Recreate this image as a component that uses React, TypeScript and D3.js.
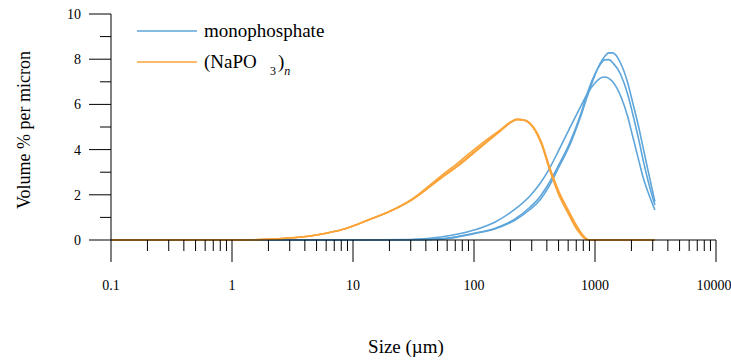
import React, { useEffect } from "react";
import * as d3 from "d3";

// particle size grid (µm) for the two sample groups
const blueSizes = [0.1, 2, 10, 30, 53, 100, 150, 214, 290, 355, 404, 500, 630, 760, 870, 1000, 1100, 1200, 1300, 1400, 1636, 1865, 2045, 2330, 2460, 2750, 3126];
const monoA = [0, 0, 0, 0.02, 0.13, 0.44, 0.8, 1.33, 1.95, 2.53, 3.0, 3.95, 5.04, 5.9, 6.5, 6.95, 7.15, 7.21, 7.15, 7.0, 6.35, 5.45, 4.6, 3.4, 2.9, 2.1, 1.33];
const monoB = [0, 0, 0, 0.01, 0.05, 0.3, 0.52, 0.9, 1.45, 1.95, 2.4, 3.3, 4.4, 5.55, 6.55, 7.35, 7.75, 7.97, 7.98, 7.85, 7.3, 6.44, 5.6, 4.3, 3.7, 2.6, 1.55];
const monoC = [0, 0, 0, 0.01, 0.04, 0.28, 0.5, 0.85, 1.35, 1.8, 2.25, 3.2, 4.3, 5.45, 6.4, 7.3, 7.8, 8.12, 8.28, 8.28, 7.8, 6.95, 6.1, 4.85, 4.25, 3.05, 1.7];

const orangeSizes = [0.1, 1, 2, 3, 4.4, 6, 7.9, 10, 13.4, 20, 30, 53, 75, 100, 130, 166, 200, 228, 260, 310, 360, 425, 500, 590, 680, 760, 850, 900, 1500, 3126];
const polyA = [0, 0, 0.03, 0.09, 0.18, 0.3, 0.44, 0.62, 0.89, 1.26, 1.75, 2.75, 3.35, 3.9, 4.4, 4.85, 5.2, 5.33, 5.3, 4.97, 4.3, 3.1, 2.1, 1.33, 0.7, 0.3, 0.03, 0, 0, 0];
const polyB = [0, 0, 0.03, 0.09, 0.18, 0.3, 0.44, 0.62, 0.89, 1.26, 1.77, 2.82, 3.45, 4.0, 4.47, 4.88, 5.22, 5.35, 5.3, 4.95, 4.25, 3.05, 2.02, 1.25, 0.62, 0.25, 0.02, 0, 0, 0];
const polyC = [0, 0, 0.03, 0.09, 0.18, 0.3, 0.44, 0.62, 0.89, 1.26, 1.74, 2.72, 3.3, 3.85, 4.36, 4.83, 5.18, 5.32, 5.31, 5.0, 4.35, 3.17, 2.18, 1.4, 0.78, 0.36, 0.06, 0, 0, 0];

const xTickLabels = ["0.1", "1", "10", "100", "1000", "10000"];
const yTickLabels = ["0", "2", "4", "6", "8", "10"];

const BLUE = "#5DA5DA";
const ORANGE = "#FAA43A";
const FONT = '"Liberation Serif", "DejaVu Serif", serif';

export default function App() {
  useEffect(() => {
    document.body.style.margin = "0";
  }, []);

  const W = 731;
  const H = 362;
  const x = d3.scaleLog().domain([0.1, 10000]).range([111, 716]);
  const y = d3.scaleLinear().domain([0, 10]).range([240, 14]);

  const line = d3
    .line<[number, number]>()
    .x((d) => x(d[0]))
    .y((d) => y(d[1]))
    .curve(d3.curveMonotoneX);

  const blue = [monoA, monoB, monoC].map((vals) => line(blueSizes.map((s, i) => [s, vals[i]]))!);
  const orange = [polyA, polyB, polyC].map((vals) => line(orangeSizes.map((s, i) => [s, vals[i]]))!);

  const xTicks = x.ticks();
  const isMajor = (t: number) => Math.abs(Math.log10(t) - Math.round(Math.log10(t))) < 1e-9;
  const yTicks = d3.range(0, 11, 1);

  return (
    <svg
      width={W}
      height={H}
      style={{ display: "block", position: "absolute", left: 0, top: 0, background: "#fff" }}
    >
      {/* curves */}
      <g fill="none" strokeWidth={1.6} strokeLinejoin="round">
        {blue.map((d, i) => (
          <path key={"b" + i} d={d} stroke={BLUE} />
        ))}
        {orange.map((d, i) => (
          <path key={"o" + i} d={d} stroke={ORANGE} />
        ))}
      </g>

      {/* axes */}
      <g stroke="#000" strokeWidth={1}>
        <line x1={111} x2={111} y1={y(10)} y2={y(0)} />
        <line x1={111} x2={716} y1={y(0)} y2={y(0)} />
        {yTicks.map((t) => (
          <line key={"yt" + t} x1={t % 2 === 0 ? 89 : 100} x2={111} y1={y(t)} y2={y(t)} />
        ))}
        {xTicks.map((t) => (
          <line key={"xt" + t} x1={x(t)} x2={x(t)} y1={y(0)} y2={y(0) + (isMajor(t) ? 22 : 11)} />
        ))}
      </g>

      <g style={{ fontFamily: FONT }} fill="#000">
        {/* tick labels */}
        <g fontSize={14}>
          {xTickLabels.map((l) => (
            <text key={l} x={l === "10000" ? x(+l) - 2 : x(+l)} y={290} textAnchor="middle">
              {l}
            </text>
          ))}
          {yTickLabels.map((l) => (
            <text key={l} x={81} y={y(+l) + 5} textAnchor="end">
              {l}
            </text>
          ))}
        </g>

        {/* axis titles */}
        <text x={406} y={353} textAnchor="middle" fontSize={19}>
          Size (µm)
        </text>
        <text transform="translate(30,130) rotate(-90)" textAnchor="middle" fontSize={18}>
          Volume % per micron
        </text>

        {/* legend */}
        <g fontSize={19}>
          <text x={204} y={37}>monophosphate</text>
          <text x={204} y={68}>
            (NaPO
            <tspan x={270} dy={7} fontSize={12}>3</tspan>
            <tspan x={278} dy={-7}>)</tspan>
            <tspan dy={7} fontSize={12} fontStyle="italic">n</tspan>
          </text>
        </g>
      </g>
      <line x1={137} x2={197} y1={31} y2={31} stroke={BLUE} strokeWidth={1.6} />
      <line x1={137} x2={197} y1={62} y2={62} stroke={ORANGE} strokeWidth={1.6} />
    </svg>
  );
}
